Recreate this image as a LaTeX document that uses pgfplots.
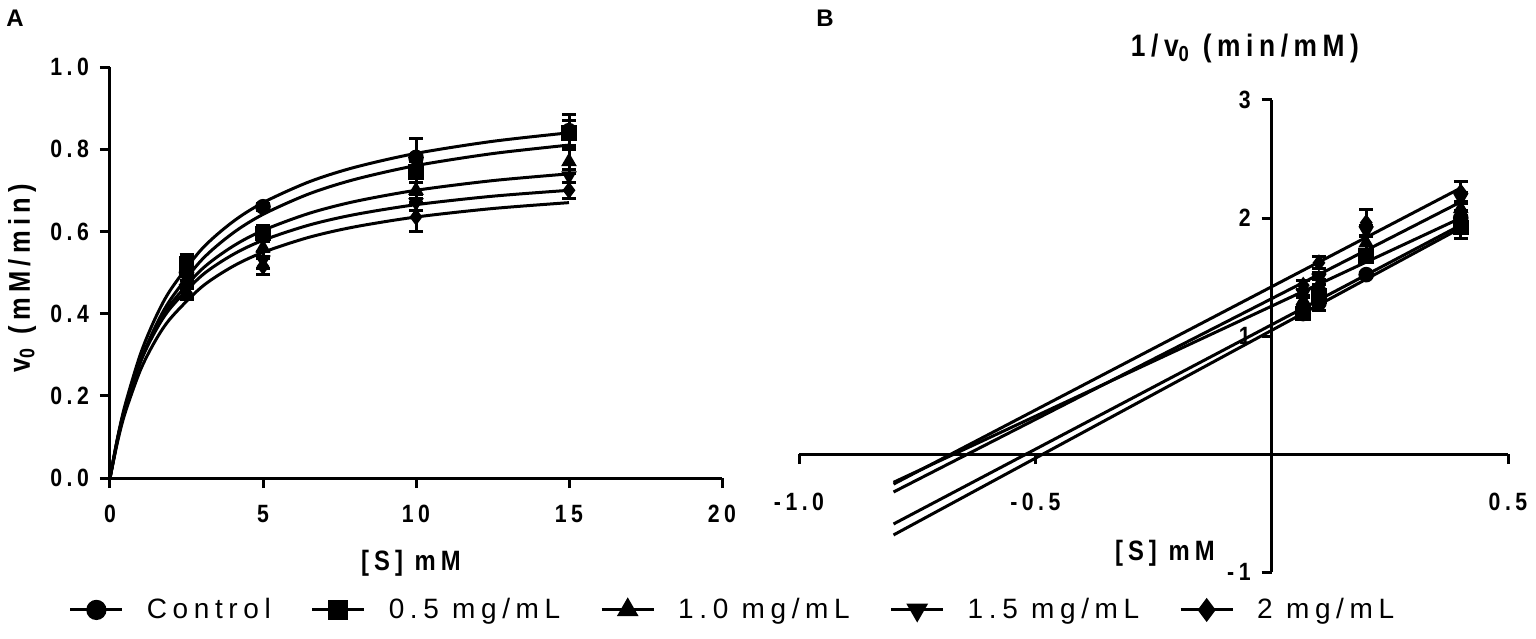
\documentclass[border=0pt]{standalone}
\usepackage{fontspec}
\setmainfont{Liberation Sans}
\newfontfamily\nbfont{Liberation Sans}[FakeStretch=0.85, LetterSpace=18]
\newfontfamily\legfont{Liberation Sans}[LetterSpace=20]
\usepackage{pgfplots}
\usepackage{pgfplotstable}
\pgfplotsset{compat=1.18}

% Panel A: substrate vs initial velocity (mean, error)
\pgfplotstableread{
S v e
2.5 0.50 0.020
5 0.660 0.008
10 0.780 0.045
15 0.845 0.040
}\Actrl
\pgfplotstableread{
S v e
2.5 0.520 0.025
5 0.595 0.020
10 0.745 0.025
15 0.840 0.030
}\Asq
\pgfplotstableread{
S v e
2.5 0.480 0.020
5 0.560 0.020
10 0.700 0.020
15 0.770 0.030
}\Atri
\pgfplotstableread{
S v e
2.5 0.460 0.020
5 0.530 0.020
10 0.670 0.020
15 0.735 0.015
}\Adown
\pgfplotstableread{
S v e
2.5 0.450 0.015
5 0.515 0.020
10 0.635 0.035
15 0.700 0.020
}\Adia
% Panel B: 1/S vs 1/v
\pgfplotstableread{
x y e
0.0667 1.19 0.04
0.1 1.28 0.06
0.2 1.52 0.02
0.4 2.00 0.06
}\Bctrl
\pgfplotstableread{
x y e
0.0667 1.19 0.05
0.1 1.34 0.05
0.2 1.68 0.05
0.4 1.92 0.09
}\Bsq
\pgfplotstableread{
x y e
0.0667 1.30 0.04
0.1 1.43 0.05
0.2 1.79 0.06
0.4 2.08 0.06
}\Btri
\pgfplotstableread{
x y e
0.0667 1.36 0.03
0.1 1.49 0.05
0.2 1.89 0.05
0.4 2.17 0.05
}\Bdown
\pgfplotstableread{
x y e
0.0667 1.43 0.04
0.1 1.62 0.05
0.2 1.96 0.11
0.4 2.22 0.09
}\Bdia

\pgfplotsset{
  pts/.style={only marks, black, line width=1.2pt, mark size=3.3pt, forget plot,
    error bars/y dir=both, error bars/y explicit,
    error bars/error bar style={line width=1.5pt, black},
    error bars/error mark options={rotate=90, mark size=3.5pt, line width=1.5pt, black}},
  fit/.style={black, line width=1.5pt, no marks, forget plot},
}

\begin{document}
\begin{tikzpicture}[x=1pt,y=1pt]
\useasboundingbox (0,0) rectangle (768,319);
\node[font=\fontsize{12}{12}\selectfont\bfseries] at (7.5,310) {A};
\node[font=\fontsize{12}{12}\selectfont\bfseries] at (412.5,310) {B};

\begin{axis}[
  at={(55pt,80pt)}, anchor=south west,
  scale only axis, width=306pt, height=205.5pt,
  xmin=0, xmax=20, ymin=0, ymax=1,
  axis lines=left, axis line style={line width=1.5pt, -},
  xtick={0,5,10,15,20}, xticklabels={0,5,10,15,20},
  ytick={0,0.2,0.4,0.6,0.8,1.0}, yticklabels={0.0,0.2,0.4,0.6,0.8,1.0},
  tick align=outside, major tick length=5pt,
  tick style={line width=1.5pt, black},
  tick label style={font=\fontsize{12.5}{12.5}\selectfont\nbfont\bfseries},
  xticklabel style={yshift=-5pt},
  yticklabel style={xshift=-2pt},
  xlabel={[S] mM},
  xlabel style={at={(axis description cs:0.4918,-0.2068)}, anchor=center,
    font=\fontsize{14}{14}\selectfont\nbfont\bfseries},
  ylabel={v\textsubscript{0} (mM/min)},
  ylabel style={at={(axis description cs:-0.1438,0.4866)}, anchor=center,
    font=\fontsize{15}{15}\selectfont\nbfont\bfseries},
  clip=false,
  legend columns=5,
  legend style={at={(1.0188,-0.321)}, anchor=center, draw=none, fill=none,
    font=\fontsize{14}{14}\selectfont\legfont,
    /tikz/every odd column/.append style={column sep=9.5pt},
    /tikz/every even column/.append style={column sep=18pt}},
  legend image code/.code={\draw[mark repeat=2,mark phase=2] plot coordinates {(0pt,0pt) (13pt,0pt) (26pt,0pt)};},
]
\addlegendimage{black, line width=1.5pt, mark=*, mark size=4.3pt}
\addlegendentry{Control}
\addlegendimage{black, line width=1.5pt, mark=square*, mark size=4.3pt}
\addlegendentry{0.5 mg/mL}
\addlegendimage{black, line width=1.5pt, mark=triangle*, mark size=4.8pt}
\addlegendentry{1.0 mg/mL}
\addlegendimage{black, line width=1.5pt, mark=triangle*, mark size=4.8pt, mark options={rotate=180}}
\addlegendentry{1.5 mg/mL}
\addlegendimage{black, line width=1.5pt, mark=diamond*, mark size=4.8pt}
\addlegendentry{2 mg/mL}

% fitted Michaelis-Menten curves
\addplot[fit, smooth] coordinates {(0,0) (0.25,0.0990) (0.5,0.1795) (1,0.3025) (1.5,0.3921) (2,0.4603) (3,0.5571) (4,0.6227) (5,0.6699) (6.5,0.7204) (8,0.7560) (10,0.7898) (12.5,0.8191) (15,0.8399)};
\addplot[fit, smooth] coordinates {(0,0) (0.25,0.0925) (0.5,0.1683) (1,0.2852) (1.5,0.3711) (2,0.4368) (3,0.5309) (4,0.5950) (5,0.6414) (6.5,0.6912) (8,0.7265) (10,0.7601) (12.5,0.7893) (15,0.8100)};
\addplot[fit, smooth] coordinates {(0,0) (0.25,0.0956) (0.5,0.1716) (1,0.2847) (1.5,0.3649) (2,0.4247) (3,0.5079) (4,0.5631) (5,0.6024) (6.5,0.6438) (8,0.6728) (10,0.7000) (12.5,0.7235) (15,0.7400)};
\addplot[fit, smooth] coordinates {(0,0) (0.25,0.0971) (0.5,0.1728) (1,0.2830) (1.5,0.3595) (2,0.4157) (3,0.4926) (4,0.5429) (5,0.5783) (6.5,0.6153) (8,0.6410) (10,0.6650) (12.5,0.6856) (15,0.7000)};
\addplot[fit, smooth] coordinates {(0,0) (0.25,0.0893) (0.5,0.1597) (1,0.2635) (1.5,0.3364) (2,0.3904) (3,0.4650) (4,0.5142) (5,0.5490) (6.5,0.5856) (8,0.6111) (10,0.6350) (12.5,0.6556) (15,0.6700)};

\addplot[pts, mark=diamond*] table[x=S, y=v, y error=e] {\Adia};
\addplot[pts, mark=triangle*, mark options={rotate=180}] table[x=S, y=v, y error=e] {\Adown};
\addplot[pts, mark=triangle*] table[x=S, y=v, y error=e] {\Atri};
\addplot[pts, mark=square*] table[x=S, y=v, y error=e] {\Asq};
\addplot[pts, mark=*] table[x=S, y=v, y error=e] {\Actrl};
\end{axis}

\begin{axis}[
  at={(399.5pt,33pt)}, anchor=south west,
  scale only axis, width=354.5pt, height=236pt,
  xmin=-1, xmax=0.5, ymin=-1, ymax=3,
  axis lines=middle, axis line style={line width=1.5pt, -},
  xtick={-1,-0.5,0.5}, xticklabels={-1.0,-0.5,0.5},
  ytick={-1,1,2,3}, yticklabels={-1,1,2,3},
  tick align=outside, major tick length=5pt,
  tick style={line width=1.5pt, black},
  tick label style={font=\fontsize{12.5}{12.5}\selectfont\nbfont\bfseries},
  xticklabel style={yshift=-11pt},
  yticklabel style={xshift=-2pt},
  xlabel={[S] mM},
  xlabel style={at={(axis description cs:0.516,0.040)}, anchor=center,
    font=\fontsize{14}{14}\selectfont\nbfont\bfseries},
  ylabel={1/v\textsubscript{0} (min/mM)},
  ylabel style={at={(axis description cs:0.629,1.110)}, anchor=center, rotate=0,
    font=\fontsize{15.5}{15.5}\selectfont\nbfont\bfseries},
  clip=false,
]
% Lineweaver-Burk lines
\addplot[fit] coordinates {(-0.8,-0.686) (0.4,1.915)};
\addplot[fit] coordinates {(-0.8,-0.593) (0.4,1.940)};
\addplot[fit] coordinates {(-0.8,-0.240) (0.4,2.000)};
\addplot[fit] coordinates {(-0.8,-0.322) (0.4,2.136)};
\addplot[fit] coordinates {(-0.8,-0.255) (0.4,2.254)};

\addplot[pts, mark=diamond*] table[x=x, y=y, y error=e] {\Bdia};
\addplot[pts, mark=triangle*, mark options={rotate=180}] table[x=x, y=y, y error=e] {\Bdown};
\addplot[pts, mark=triangle*] table[x=x, y=y, y error=e] {\Btri};
\addplot[pts, mark=square*] table[x=x, y=y, y error=e] {\Bsq};
\addplot[pts, mark=*] table[x=x, y=y, y error=e] {\Bctrl};
\end{axis}
\end{tikzpicture}
\end{document}
